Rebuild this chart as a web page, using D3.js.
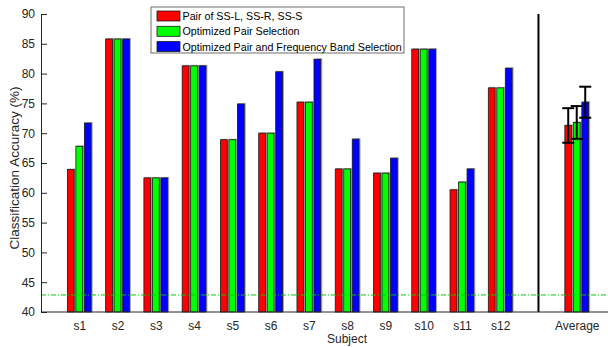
<!DOCTYPE html>
<html lang="en">
<head>
    <meta charset="UTF-8">
    <title>Classification Accuracy by Subject</title>
    <script src="https://d3js.org/d3.v7.min.js"></script>
    <style>
        body {
            margin: 0;
            background: #fff;
            font-family: "Liberation Sans", Arial, sans-serif;
        }
        .axis text {
            fill: #262626;
            font-size: 12px;
            font-family: "Liberation Sans", Arial, sans-serif;
        }
        .axis path, .axis line {
            stroke: #262626;
        }
    </style>
</head>
<body>
    <svg id="chart"></svg>

    <script>
        // data
        const subjects = ["s1", "s2", "s3", "s4", "s5", "s6", "s7", "s8", "s9", "s10", "s11", "s12", "Average"];
        const slots = [1, 2, 3, 4, 5, 6, 7, 8, 9, 10, 11, 12, 14];
        const pairSS = [63.9, 85.8, 62.5, 81.3, 68.9, 70.0, 75.2, 64.0, 63.3, 84.1, 60.5, 77.6, 71.3];
        const optPair = [67.8, 85.8, 62.5, 81.3, 68.9, 70.0, 75.2, 64.0, 63.3, 84.1, 61.8, 77.6, 71.8];
        const optPairBand = [71.7, 85.8, 62.5, 81.3, 74.9, 80.3, 82.4, 69.0, 65.8, 84.1, 64.0, 80.9, 75.2];
        const avgErr = [2.9, 2.75, 2.6];
        const chanceLevel = 42.86;
        const seriesNames = ["Pair of SS-L, SS-R, SS-S", "Optimized Pair Selection", "Optimized Pair and Frequency Band Selection"];
        const seriesColors = ["#ff0000", "#00ff00", "#0000ff"];
        const yTicks = [40, 45, 50, 55, 60, 65, 70, 75, 80, 85, 90];

        const width = 608;
        const height = 347;

        const svg = d3.select("#chart")
                      .attr("width", width)
                      .attr("height", height);

        const x = d3.scaleLinear().domain([0, 15]).range([41, 615]);
        const y = d3.scaleLinear().domain([40, 90]).range([312, 14]);

        const series = [pairSS, optPair, optPairBand];
        const barStep = 0.2222;
        const barW = x(barStep * 0.8) - x(0);

        // bars
        series.forEach((vals, s) => {
            const off = (s - 1) * barStep;
            const g = svg.append("g");
            // light shadow edge
            g.selectAll(".shadow")
             .data(vals)
             .enter()
             .append("rect")
             .attr("x", (d, i) => x(slots[i] + off) - barW / 2 + 0.5)
             .attr("y", d => y(d) - 1)
             .attr("width", barW + 1)
             .attr("height", d => y(40) - y(d) + 1)
             .attr("fill", "#a8a8a8");
            g.selectAll(".bar")
             .data(vals)
             .enter()
             .append("rect")
             .attr("x", (d, i) => x(slots[i] + off) - barW / 2)
             .attr("y", d => y(d))
             .attr("width", barW)
             .attr("height", d => y(40) - y(d))
             .attr("fill", seriesColors[s])
             .attr("stroke", "#1a1a1a")
             .attr("stroke-width", 0.8);
        });

        // error bars on the average group
        const avgIdx = subjects.length - 1;
        series.forEach((vals, s) => {
            const cx = x(slots[avgIdx] + (s - 1) * barStep);
            const m = vals[avgIdx];
            const e = avgErr[s];
            const eb = svg.append("g").attr("stroke", "#000").attr("stroke-width", 2);
            eb.append("line").attr("x1", cx).attr("x2", cx).attr("y1", y(m - e)).attr("y2", y(m + e));
            eb.append("line").attr("x1", cx - 6).attr("x2", cx + 6).attr("y1", y(m - e)).attr("y2", y(m - e));
            eb.append("line").attr("x1", cx - 6).attr("x2", cx + 6).attr("y1", y(m + e)).attr("y2", y(m + e));
        });

        // separator between subjects and average
        svg.append("line")
           .attr("x1", x(13)).attr("x2", x(13))
           .attr("y1", y(90)).attr("y2", y(40))
           .attr("stroke", "#000")
           .attr("stroke-width", 2);

        // chance level
        svg.append("line")
           .attr("x1", x(0)).attr("x2", width)
           .attr("y1", y(chanceLevel)).attr("y2", y(chanceLevel))
           .attr("stroke", "#00cc00")
           .attr("stroke-width", 1)
           .attr("stroke-dasharray", "5,2,1,2");

        // axes
        const xAxis = d3.axisBottom(x)
                        .tickValues(slots)
                        .tickFormat((d, i) => subjects[i])
                        .tickSize(0)
                        .tickPadding(9);
        const gx = svg.append("g")
           .attr("class", "axis")
           .attr("transform", `translate(0, ${y(40)})`)
           .call(xAxis);
        gx.select(".domain").attr("d", `M${x(0)},0H${width}`);

        const yAxis = d3.axisLeft(y)
                        .tickValues(yTicks)
                        .tickSizeInner(-6)
                        .tickSizeOuter(0)
                        .tickPadding(5);
        const gy = svg.append("g")
           .attr("class", "axis")
           .attr("transform", `translate(${x(0)}, 0)`)
           .call(yAxis);
        gy.selectAll(".tick text").attr("dx", "-1");

        svg.append("text")
           .attr("transform", `translate(18.5, 168) rotate(-90)`)
           .attr("text-anchor", "middle")
           .attr("font-size", 13.5)
           .attr("fill", "#262626")
           .text("Classification Accuracy (%)");

        svg.append("text")
           .attr("x", 347)
           .attr("y", 343)
           .attr("text-anchor", "middle")
           .attr("font-size", 12)
           .attr("fill", "#262626")
           .text("Subject");

        // legend
        const legend = svg.append("g").attr("transform", "translate(151, 7)");
        legend.append("rect")
              .attr("width", 253)
              .attr("height", 46)
              .attr("fill", "#fff")
              .attr("stroke", "#6e6e6e");
        seriesNames.forEach((name, i) => {
            const row = legend.append("g").attr("transform", `translate(6, ${4 + i * 15.3})`);
            row.append("rect")
               .attr("width", 23)
               .attr("height", 10)
               .attr("fill", seriesColors[i])
               .attr("stroke", "#1a1a1a")
               .attr("stroke-width", 0.8);
            row.append("text")
               .attr("x", 25.5)
               .attr("y", 9)
               .attr("font-size", 10.7)
               .attr("fill", "#000")
               .text(name);
        });
    </script>
</body>
</html>
